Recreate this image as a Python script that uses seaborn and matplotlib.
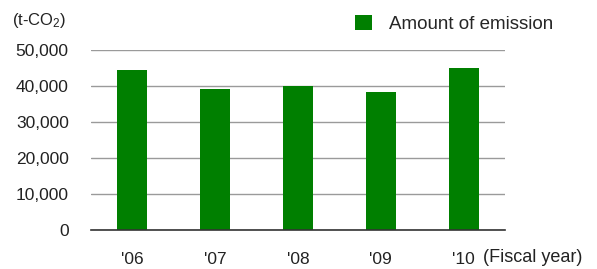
import seaborn as sns
import matplotlib.pyplot as plt

years = ["'06", "'07", "'08", "'09", "'10"]
emission = [44500, 39000, 40000, 38300, 45000]
yticks = [0, 10000, 20000, 30000, 40000, 50000]


def operation():
    sns.set_style('white')
    plt.rcParams['font.family'] = ['Liberation Sans', 'DejaVu Sans']
    plt.rcParams['mathtext.fontset'] = 'custom'
    plt.rcParams['mathtext.rm'] = 'Liberation Sans'
    plt.rcParams['mathtext.it'] = 'Liberation Sans'

    fig = plt.figure(figsize=(5.97, 2.69), dpi=100)
    ax = fig.add_axes([91 / 597, (269 - 229.5) / 269, 414 / 597, 179.5 / 269])

    sns.barplot(x=years, y=emission, color='#007f00', saturation=1,
                width=0.36, label='Amount of emission', ax=ax, edgecolor='none')

    ax.set_ylim(0, 50000)
    ax.set_xlim(-0.5, 4.5)
    ax.set_yticks(yticks)
    ax.set_yticklabels([f'{v:,}' for v in yticks], fontsize=12.5, color='#222222')
    ax.set_xticklabels(years, fontsize=12.5, color='#222222')
    ax.yaxis.grid(True, color='#9a9a9a', lw=1)
    ax.set_axisbelow(True)
    ax.tick_params(axis='y', length=0, pad=16)
    ax.tick_params(axis='x', which='major', length=0, pad=16)
    ax.set_xticks([-0.5, 0.5, 1.5, 2.5, 3.5, 4.5], minor=True)
    ax.tick_params(axis='x', which='minor', direction='in', length=5,
                   width=1, color='#333333')
    for s in ['top', 'left', 'right']:
        ax.spines[s].set_visible(False)
    ax.spines['bottom'].set_color('#333333')
    ax.spines['bottom'].set_linewidth(1.2)
    ax.set_xlabel('')
    ax.set_ylabel('')

    fig.text(483 / 597, 1 - 258 / 269, '(Fiscal year)', fontsize=13,
             va='center', ha='left', color='#222222')
    fig.text(12 / 597, 1 - 20 / 269, '(t-CO$_2$)', fontsize=12,
             va='center', ha='left', color='#222222')

    ax.legend(loc='center left', bbox_to_anchor=(355 / 597, 1 - 24 / 269),
              bbox_transform=fig.transFigure, frameon=False, fontsize=13.5,
              handlelength=0.9, handleheight=0.9, handletextpad=0.9,
              borderaxespad=0, borderpad=0)

    fig.savefig('out.png', dpi=100)


if __name__ == "__main__":
    operation()
